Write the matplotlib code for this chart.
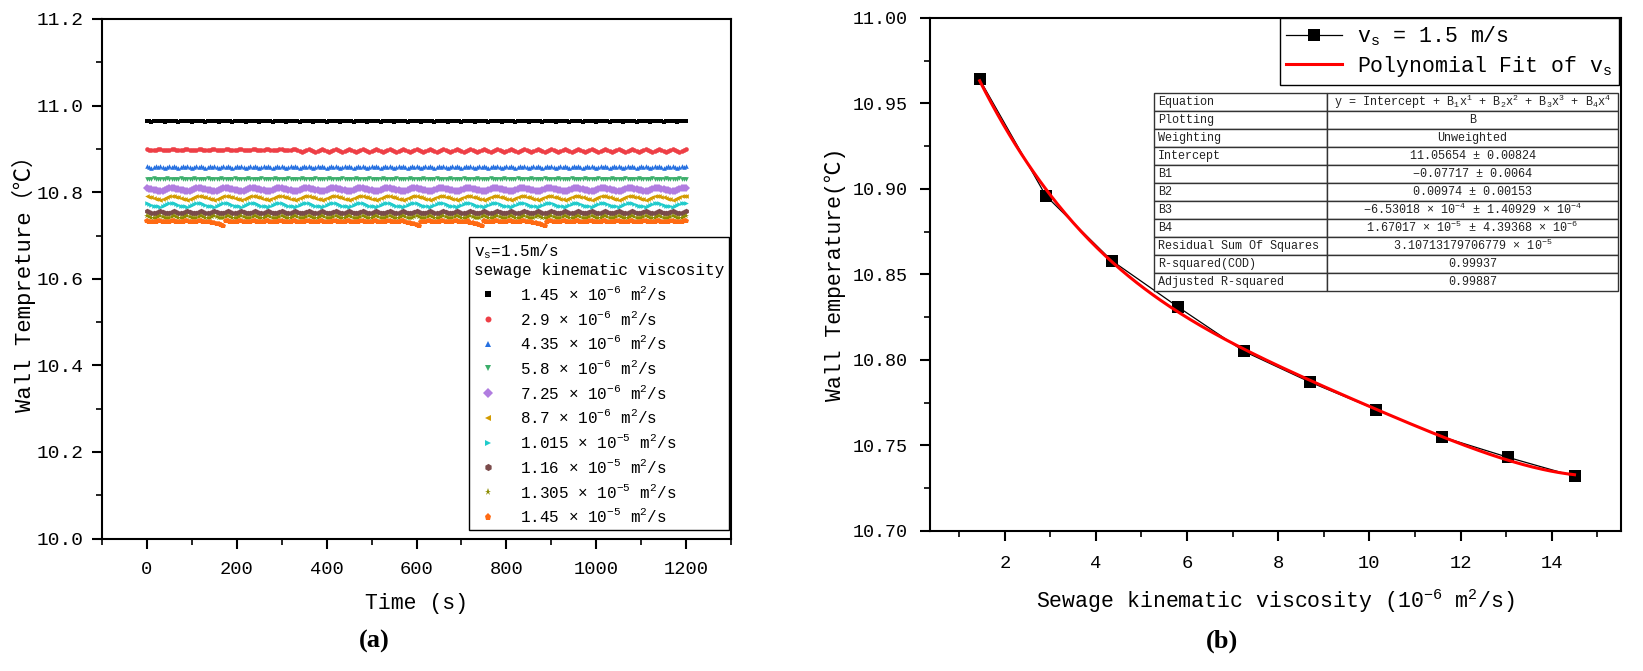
import numpy as np
import matplotlib
matplotlib.use("Agg")
import matplotlib.pyplot as plt
from matplotlib.ticker import MultipleLocator
from matplotlib.patches import Rectangle

# ---------------- data: panel (a) time series ----------------
time_step_s = 5
time_s = np.arange(0, 1200 + time_step_s, time_step_s)

viscosity_labels = [
    r"1.45 × 10$^{-6}$ m$^{2}$/s",
    r"2.9 × 10$^{-6}$ m$^{2}$/s",
    r"4.35 × 10$^{-6}$ m$^{2}$/s",
    r"5.8 × 10$^{-6}$ m$^{2}$/s",
    r"7.25 × 10$^{-6}$ m$^{2}$/s",
    r"8.7 × 10$^{-6}$ m$^{2}$/s",
    r"1.015 × 10$^{-5}$ m$^{2}$/s",
    r"1.16 × 10$^{-5}$ m$^{2}$/s",
    r"1.305 × 10$^{-5}$ m$^{2}$/s",
    r"1.45 × 10$^{-5}$ m$^{2}$/s",
]

# one observed oscillation cycle per series (deg C), repeated along the record
cycle_1 = [10.964, 10.964, 10.963, 10.964, 10.965, 10.964]
cycle_2_early = [10.899, 10.898, 10.897, 10.897, 10.898, 10.899]
cycle_2 = [10.900, 10.898, 10.895, 10.893, 10.894, 10.897]
cycle_3 = [10.860, 10.858, 10.856, 10.858, 10.861, 10.858]
cycle_4 = [10.831, 10.830, 10.831, 10.832, 10.831, 10.830]
cycle_5 = [10.809, 10.808, 10.807, 10.805, 10.804, 10.803, 10.802, 10.803,
           10.805, 10.807, 10.809, 10.810]
cycle_6 = [10.791, 10.790, 10.788, 10.787, 10.785, 10.784, 10.783, 10.785,
           10.787, 10.789, 10.791, 10.792]
cycle_7 = [10.774, 10.773, 10.771, 10.769, 10.768, 10.767, 10.766, 10.768,
           10.770, 10.772, 10.774, 10.775]
cycle_8 = [10.756, 10.755, 10.753, 10.752, 10.753, 10.755]
cycle_9 = [10.744, 10.743, 10.741, 10.740, 10.741, 10.743]
cycle_10 = [10.733, 10.732, 10.732, 10.731, 10.732, 10.733]
red_early_end_s = 330
orange_dip_end_s = [170, 605, 745, 885]
orange_dip_values = [10.730, 10.729, 10.727, 10.726, 10.724, 10.723]

series_colors = ["#000000", "#EE3F46", "#2670E0", "#3BAE6A", "#B17DE0",
                 "#D39B00", "#1FCBCB", "#7B4B4B", "#8C8C00", "#FF6A13"]
series_markers = ["s", "o", "^", "v", "D", "<", ">", "h", "*", "p"]

# ---------------- data: panel (b) ----------------
viscosity_1e6 = [1.45, 2.9, 4.35, 5.8, 7.25, 8.7, 10.15, 11.6, 13.05, 14.5]
wall_temp_b = [10.964, 10.896, 10.858, 10.831, 10.805, 10.787, 10.771,
               10.755, 10.743, 10.732]
fit_coeffs = [11.05654, -0.07717, 0.00974, -6.53018e-4, 1.67017e-5]

table_rows = [
    ("Equation", r"y = Intercept + B$_1$x$^1$ + B$_2$x$^2$ + B$_3$x$^3$ + B$_4$x$^4$"),
    ("Plotting", "B"),
    ("Weighting", "Unweighted"),
    ("Intercept", "11.05654 ± 0.00824"),
    ("B1", "−0.07717 ± 0.0064"),
    ("B2", "0.00974 ± 0.00153"),
    ("B3", r"−6.53018 × 10$^{-4}$ ± 1.40929 × 10$^{-4}$"),
    ("B4", r"1.67017 × 10$^{-5}$ ± 4.39368 × 10$^{-6}$"),
    ("Residual Sum Of Squares", r"3.10713179706779 × 10$^{-5}$"),
    ("R-squared(COD)", "0.99937"),
    ("Adjusted R-squared", "0.99887"),
]

# ---------------- build series ----------------
n = len(time_s)
series = []
for cyc in [cycle_1, cycle_2, cycle_3, cycle_4, cycle_5, cycle_6,
            cycle_7, cycle_8, cycle_9, cycle_10]:
    series.append(np.resize(np.array(cyc), n))
early = time_s < red_early_end_s
series[1][early] = np.resize(np.array(cycle_2_early), early.sum())
for t_end in orange_dip_end_s:
    idx = int(np.searchsorted(time_s, t_end))
    k = len(orange_dip_values)
    series[9][idx - k + 1:idx + 1] = orange_dip_values

# ---------------- style ----------------
FONT = ["Liberation Mono", "Noto Sans CJK SC", "DejaVu Sans"]
plt.rcParams["font.family"] = FONT
plt.rcParams["mathtext.fontset"] = "custom"
plt.rcParams["mathtext.rm"] = "Liberation Mono"
plt.rcParams["mathtext.it"] = "Liberation Mono:italic"
plt.rcParams["mathtext.bf"] = "Liberation Mono:bold"
plt.rcParams["mathtext.default"] = "rm"

W, H = 1643, 671
fig = plt.figure(figsize=(W / 100, H / 100), dpi=100)


def px_axes(left, top, right, bottom):
    return fig.add_axes([left / W, 1 - bottom / H, (right - left) / W, (bottom - top) / H])


def style_axes(ax):
    for sp in ax.spines.values():
        sp.set_linewidth(1.5)
    ax.tick_params(which="both", direction="out", top=False, right=False)
    ax.tick_params(which="major", length=7, width=1.5)
    ax.tick_params(which="minor", length=4, width=1.2)


# ---------------- panel (a) ----------------
axa = px_axes(102, 19, 731, 538.6)
style_axes(axa)
for y, lab, c, m in zip(series, viscosity_labels, series_colors, series_markers):
    ms = 4.0 if m in ("*", "h", "p", "D") else 3.3
    axa.plot(time_s, y, linestyle="none", marker=m, ms=ms, color=c,
             markeredgewidth=0, label=lab)
axa.set_xlim(-100, 1300)
axa.set_ylim(10.0, 11.2)
axa.xaxis.set_major_locator(MultipleLocator(200))
axa.xaxis.set_minor_locator(MultipleLocator(100))
axa.yaxis.set_major_locator(MultipleLocator(0.2))
axa.yaxis.set_minor_locator(MultipleLocator(0.1))
axa.set_xticks([0, 200, 400, 600, 800, 1000, 1200])
axa.yaxis.set_major_formatter(plt.FuncFormatter(lambda v, p: f"{v:.1f}"))
axa.tick_params(axis="x", labelsize=13.5, pad=9)
axa.tick_params(axis="y", labelsize=14, pad=6)
axa.set_xlabel("Time (s)", fontsize=15.5, labelpad=11)
axa.set_ylabel("Wall Tempreture（℃）", fontsize=16, labelpad=1)

leg = axa.legend(loc="lower right", bbox_to_anchor=(0.9968, 0.0165),
                 title="v$_{s}$=1.5m/s\nsewage kinematic viscosity",
                 title_fontsize=11.5, fontsize=11.5, frameon=True, fancybox=False,
                 framealpha=1, edgecolor="black", markerscale=1.3,
                 handlelength=1.8, handletextpad=1.1, labelspacing=0.42,
                 borderpad=0.3, borderaxespad=0, alignment="left")
leg.get_frame().set_linewidth(1.0)

# ---------------- panel (b) ----------------
axb = px_axes(930, 17.8, 1621, 531)
style_axes(axb)
axb.plot(viscosity_1e6, wall_temp_b, color="black", lw=0.9, marker="s",
         ms=8.5, markeredgewidth=0, label="v$_{s}$ = 1.5 m/s", zorder=3)
x_fit = np.linspace(min(viscosity_1e6), max(viscosity_1e6), 300)
y_fit = np.polynomial.polynomial.polyval(x_fit, fit_coeffs)
axb.plot(x_fit, y_fit, color="red", lw=2.2, label="Polynomial Fit of v$_{s}$", zorder=4)
axb.set_xlim(0.36, 15.52)
axb.set_ylim(10.70, 11.00)
axb.xaxis.set_major_locator(MultipleLocator(2))
axb.xaxis.set_minor_locator(MultipleLocator(1))
axb.yaxis.set_major_locator(MultipleLocator(0.05))
axb.yaxis.set_minor_locator(MultipleLocator(0.025))
axb.yaxis.set_major_formatter(plt.FuncFormatter(lambda v, p: f"{v:.2f}"))
axb.tick_params(axis="x", labelsize=13.5, pad=10)
axb.tick_params(axis="y", labelsize=13.2, pad=9)
axb.set_xlabel("Sewage kinematic viscosity (10$^{-6}$ m$^{2}$/s)", fontsize=15.5, labelpad=11)
axb.set_ylabel("Wall Temperature(℃)", fontsize=15.5, labelpad=5)

legb = axb.legend(loc="upper right", bbox_to_anchor=(0.9965, 0.999), fontsize=15.5,
                  frameon=True, fancybox=False, framealpha=1, edgecolor="black",
                  handlelength=2.6, handletextpad=0.7, labelspacing=0.25,
                  borderpad=0.3, borderaxespad=0)
legb.get_frame().set_linewidth(1.0)

# fit table
tx0 = (1154 - 930) / 691
txd = (1327 - 930) / 691
tx1 = (1618 - 930) / 691
ttop = (531 - 92.7) / 513.2
rh = 18.0 / 513.2
for i, (k, v) in enumerate(table_rows):
    yt = ttop - i * rh
    for (a, b) in ((tx0, txd), (txd, tx1)):
        axb.add_patch(Rectangle((a, yt - rh), b - a, rh, transform=axb.transAxes,
                                facecolor="white", edgecolor="#333333", lw=1.0,
                                clip_on=False, zorder=6))
    axb.text(tx0 + 0.006, yt - rh / 2, k, transform=axb.transAxes, ha="left",
             va="center", fontsize=8.5, zorder=7, color="#222222")
    axb.text((txd + tx1) / 2, yt - rh / 2, v, transform=axb.transAxes, ha="center",
             va="center", fontsize=8.5, zorder=7, color="#222222")

# panel captions
fig.text(374 / W, 1 - 641 / H, "(a)", ha="center", va="center", fontsize=19,
         fontweight="bold", family="Liberation Serif")
fig.text(1222 / W, 1 - 641 / H, "(b)", ha="center", va="center", fontsize=19,
         fontweight="bold", family="Liberation Serif")

fig.savefig("out.png", dpi=100, facecolor="white")
